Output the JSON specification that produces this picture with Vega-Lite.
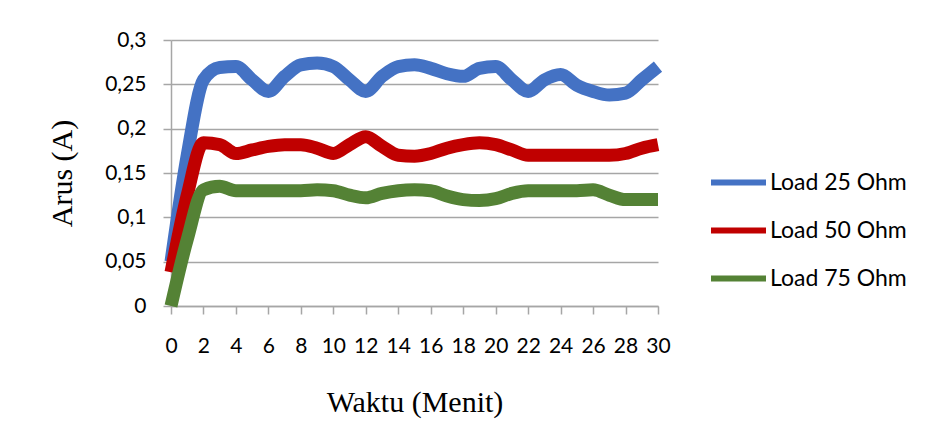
{
  "$schema": "https://vega.github.io/schema/vega-lite/v6.json",
  "autosize": {"type": "none"},
  "width": 487,
  "height": 266,
  "padding": {"left": 171, "top": 40, "right": 271, "bottom": 142},
  "background": "white",
  "data": {
    "values": [
      {"t": 0, "Load 25 Ohm": 0.05, "Load 50 Ohm": 0.038, "Load 75 Ohm": 0.0},
      {"t": 1, "Load 25 Ohm": 0.17, "Load 50 Ohm": 0.125, "Load 75 Ohm": 0.075},
      {"t": 2, "Load 25 Ohm": 0.255, "Load 50 Ohm": 0.184, "Load 75 Ohm": 0.131},
      {"t": 3, "Load 25 Ohm": 0.269, "Load 50 Ohm": 0.182, "Load 75 Ohm": 0.135},
      {"t": 4, "Load 25 Ohm": 0.27, "Load 50 Ohm": 0.172, "Load 75 Ohm": 0.13},
      {"t": 5, "Load 25 Ohm": 0.255, "Load 50 Ohm": 0.176, "Load 75 Ohm": 0.13},
      {"t": 6, "Load 25 Ohm": 0.242, "Load 50 Ohm": 0.18, "Load 75 Ohm": 0.13},
      {"t": 7, "Load 25 Ohm": 0.259, "Load 50 Ohm": 0.182, "Load 75 Ohm": 0.13},
      {"t": 8, "Load 25 Ohm": 0.272, "Load 50 Ohm": 0.182, "Load 75 Ohm": 0.13},
      {"t": 9, "Load 25 Ohm": 0.274, "Load 50 Ohm": 0.178, "Load 75 Ohm": 0.131},
      {"t": 10, "Load 25 Ohm": 0.27, "Load 50 Ohm": 0.172, "Load 75 Ohm": 0.13},
      {"t": 11, "Load 25 Ohm": 0.255, "Load 50 Ohm": 0.182, "Load 75 Ohm": 0.125},
      {"t": 12, "Load 25 Ohm": 0.242, "Load 50 Ohm": 0.191, "Load 75 Ohm": 0.122},
      {"t": 13, "Load 25 Ohm": 0.259, "Load 50 Ohm": 0.18, "Load 75 Ohm": 0.127},
      {"t": 14, "Load 25 Ohm": 0.27, "Load 50 Ohm": 0.17, "Load 75 Ohm": 0.13},
      {"t": 15, "Load 25 Ohm": 0.272, "Load 50 Ohm": 0.169, "Load 75 Ohm": 0.131},
      {"t": 16, "Load 25 Ohm": 0.268, "Load 50 Ohm": 0.172, "Load 75 Ohm": 0.13},
      {"t": 17, "Load 25 Ohm": 0.262, "Load 50 Ohm": 0.178, "Load 75 Ohm": 0.124},
      {"t": 18, "Load 25 Ohm": 0.259, "Load 50 Ohm": 0.182, "Load 75 Ohm": 0.12},
      {"t": 19, "Load 25 Ohm": 0.268, "Load 50 Ohm": 0.184, "Load 75 Ohm": 0.119},
      {"t": 20, "Load 25 Ohm": 0.27, "Load 50 Ohm": 0.182, "Load 75 Ohm": 0.121},
      {"t": 21, "Load 25 Ohm": 0.255, "Load 50 Ohm": 0.176, "Load 75 Ohm": 0.127},
      {"t": 22, "Load 25 Ohm": 0.242, "Load 50 Ohm": 0.17, "Load 75 Ohm": 0.13},
      {"t": 23, "Load 25 Ohm": 0.255, "Load 50 Ohm": 0.17, "Load 75 Ohm": 0.13},
      {"t": 24, "Load 25 Ohm": 0.261, "Load 50 Ohm": 0.17, "Load 75 Ohm": 0.13},
      {"t": 25, "Load 25 Ohm": 0.249, "Load 50 Ohm": 0.17, "Load 75 Ohm": 0.13},
      {"t": 26, "Load 25 Ohm": 0.242, "Load 50 Ohm": 0.17, "Load 75 Ohm": 0.131},
      {"t": 27, "Load 25 Ohm": 0.238, "Load 50 Ohm": 0.17, "Load 75 Ohm": 0.125},
      {"t": 28, "Load 25 Ohm": 0.24, "Load 50 Ohm": 0.172, "Load 75 Ohm": 0.12},
      {"t": 29, "Load 25 Ohm": 0.255, "Load 50 Ohm": 0.178, "Load 75 Ohm": 0.12},
      {"t": 30, "Load 25 Ohm": 0.27, "Load 50 Ohm": 0.182, "Load 75 Ohm": 0.12}
    ]
  },
  "transform": [
    {"fold": ["Load 25 Ohm", "Load 50 Ohm", "Load 75 Ohm"], "as": ["series", "value"]}
  ],
  "mark": {"type": "line", "strokeWidth": 13, "interpolate": "monotone", "strokeJoin": "round", "strokeCap": "butt", "clip": false},
  "encoding": {
    "x": {
      "field": "t", "type": "quantitative",
      "scale": {"domain": [0, 30], "nice": false, "zero": false},
      "axis": {
        "values": [0, 2, 4, 6, 8, 10, 12, 14, 16, 18, 20, 22, 24, 26, 28, 30],
        "grid": false,
        "title": "Waktu (Menit)",
        "titleFont": "Liberation Serif", "titleFontSize": 30, "titleFontWeight": "normal", "titleColor": "#000000",
        "titlePadding": 31,
        "labelFont": "Lato", "labelFontSize": 21, "labelColor": "#000000",
        "labelPadding": 21, "labelFlush": false, "labelOverlap": false,
        "tickSize": 8, "tickColor": "#a6a6a6", "tickWidth": 1.5,
        "domainColor": "#a6a6a6", "domainWidth": 1.5
      }
    },
    "y": {
      "field": "value", "type": "quantitative",
      "scale": {"domain": [0, 0.3], "nice": false},
      "axis": {
        "values": [0, 0.05, 0.1, 0.15, 0.2, 0.25, 0.3],
        "labelExpr": "replace(format(datum.value, '.2~f'), '.', ',')",
        "title": "Arus (A)",
        "titleFont": "Liberation Serif", "titleFontSize": 30, "titleFontWeight": "normal", "titleColor": "#000000",
        "titleX": -94,
        "labelFont": "Lato", "labelFontSize": 21, "labelColor": "#000000",
        "labelPadding": 17, "labelFlush": false,
        "tickSize": 8, "tickColor": "#a6a6a6", "tickWidth": 1.5,
        "gridColor": "#a6a6a6", "gridWidth": 1.5,
        "domainColor": "#a6a6a6", "domainWidth": 1.5
      }
    },
    "color": {
      "field": "series", "type": "nominal",
      "scale": {"domain": ["Load 25 Ohm", "Load 50 Ohm", "Load 75 Ohm"], "range": ["#4472C4", "#C00000", "#548235"]},
      "legend": {
        "title": null,
        "orient": "none",
        "legendX": 537,
        "legendY": 112,
        "symbolType": "stroke",
        "symbolSize": 3025,
        "symbolStrokeWidth": 6,
        "labelFont": "Lato", "labelFontSize": 23, "labelColor": "#000000",
        "labelOffset": 1,
        "rowPadding": 5
      }
    }
  },
  "config": {"view": {"stroke": null}}
}
